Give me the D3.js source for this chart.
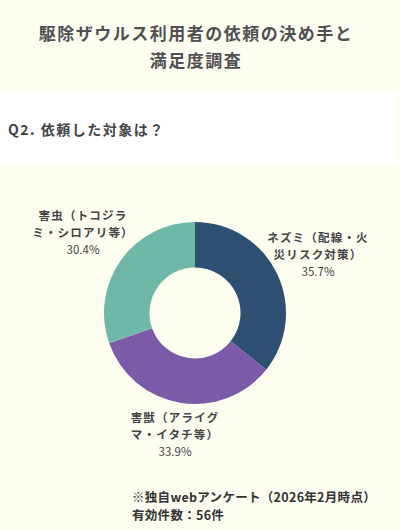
<!DOCTYPE html>
<html>
<head>
<meta charset="utf-8">
<script src="https://cdn.jsdelivr.net/npm/d3@7"></script>
<style>
  body { margin: 0; background: #fefef0; }
  svg { display: block; }
</style>
</head>
<body>
<div id="chart"></div>
<script>
// data
let categories = ['ネズミ（配線・火災リスク対策）', '害獣（アライグマ・イタチ等）', '害虫（トコジラミ・シロアリ等）'];
let labelLines = [
    ['ネズミ（配線・火', '災リスク対策）'],
    ['害獣（アライグ', 'マ・イタチ等）'],
    ['害虫（トコジラ', 'ミ・シロアリ等）']
];
let values = [35.7, 33.9, 30.4];
let colors = ['#2d4f72', '#7b5ba8', '#6fb8a8'];

let w = 400, h = 530;
let cx = 195, cy = 313;
let outerR = 91, innerR = 45.5;
let font = "'Noto Sans CJK JP', 'Noto Sans', sans-serif";

let svg = d3.select('#chart').append('svg')
    .attr('width', w)
    .attr('height', h);

svg.append('rect').attr('width', w).attr('height', h).attr('fill', '#fefef0');

// title
let titleLines = ['駆除ザウルス利用者の依頼の決め手と', '満足度調査'];
svg.selectAll('.title').data(titleLines).enter()
    .append('text')
    .attr('class', 'title')
    .attr('x', 196)
    .attr('y', (d, i) => 40 + i * 27)
    .attr('text-anchor', 'middle')
    .attr('font-family', font)
    .attr('font-weight', 'bold')
    .attr('font-size', '17px')
    .attr('letter-spacing', '1.5px')
    .attr('fill', '#505050')
    .text(d => d);

// question band
svg.append('rect')
    .attr('x', 0).attr('y', 93)
    .attr('width', 397).attr('height', 70)
    .attr('fill', '#ffffff');
svg.append('text')
    .attr('x', 8).attr('y', 135)
    .attr('font-family', font)
    .attr('font-weight', 'bold')
    .attr('font-size', '14px')
    .attr('letter-spacing', '1.5px')
    .attr('fill', '#444444')
    .text('Q2. 依頼した対象は？');

// donut
let pie = d3.pie().sort(null).value(d => d);
let arc = d3.arc().innerRadius(innerR).outerRadius(outerR);
let arcs = pie(values);

let g = svg.append('g').attr('transform', `translate(${cx},${cy})`);
g.selectAll('path').data(arcs).enter()
    .append('path')
    .attr('d', arc)
    .attr('fill', (d, i) => colors[i]);

// labels, placed outside the ring
let labelPos = [
    { x: 318, y: 242 },
    { x: 175, y: 422 },
    { x: 83, y: 220 }
];

arcs.forEach((d, i) => {
    let p = labelPos[i];
    labelLines[i].forEach((line, j) => {
        svg.append('text')
            .attr('x', p.x)
            .attr('y', p.y + j * 17)
            .attr('text-anchor', 'middle')
            .attr('font-family', font)
            .attr('font-size', '11.5px')
            .attr('font-weight', 'bold')
            .attr('letter-spacing', '1.2px')
            .attr('fill', '#444444')
            .text(line);
    });
    svg.append('text')
        .attr('x', p.x)
        .attr('y', p.y + 34)
        .attr('text-anchor', 'middle')
        .attr('font-family', font)
        .attr('font-size', '11.5px')
        .attr('fill', '#444444')
        .text(values[i].toFixed(1) + '%');
});

// footnote
let noteLines = ['※独自webアンケート（2026年2月時点）', '有効件数：56件'];
svg.selectAll('.note').data(noteLines).enter()
    .append('text')
    .attr('class', 'note')
    .attr('x', 132)
    .attr('y', (d, i) => 502 + i * 18)
    .attr('font-family', font)
    .attr('font-weight', 'bold')
    .attr('font-size', '12.5px')
    .attr('letter-spacing', '0.3px')
    .attr('fill', '#333333')
    .text(d => d);
</script>
</body>
</html>
